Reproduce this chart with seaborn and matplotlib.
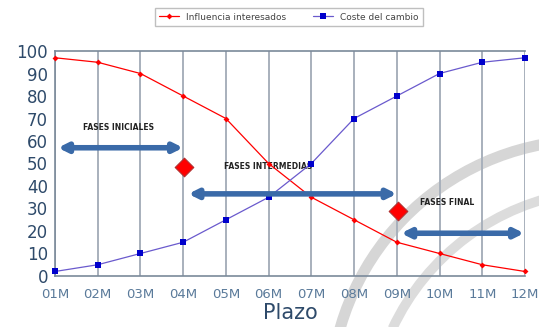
import pandas as pd
import matplotlib.pyplot as plt
import seaborn as sns
from matplotlib.patches import Arc

# datos
plazo = ['01M', '02M', '03M', '04M', '05M', '06M', '07M', '08M', '09M', '10M', '11M', '12M']
influencia = [97, 95, 90, 80, 70, 50, 35, 25, 15, 10, 5, 2]
coste = [2, 5, 10, 15, 25, 35, 50, 70, 80, 90, 95, 97]

df = pd.DataFrame({'pos': range(len(plazo)), 'Influencia interesados': influencia,
                   'Coste del cambio': coste})

sns.set_style('white')
fig = plt.figure(figsize=(5.39, 3.27), dpi=100)

# marca de agua gris de fondo
bg = fig.add_axes([0, 0, 1, 1], zorder=0)
bg.set_xlim(0, 539)
bg.set_ylim(327, 0)
bg.axis('off')
bg.add_patch(Arc((590, 400), 520, 520, theta1=180, theta2=268, color='#d6d6d6', lw=8))
bg.add_patch(Arc((610, 430), 480, 480, theta1=205, theta2=262, color='#dcdcdc', lw=7))

ax = fig.add_axes([0.102, 0.156, 0.872, 0.688], zorder=1)
ax.patch.set_alpha(0)

sns.lineplot(data=df, x='pos', y='Influencia interesados', ax=ax, color='#ff0000', lw=0.9,
             marker='D', markersize=3, markeredgewidth=0, label='Influencia interesados',
             clip_on=False, zorder=4)
sns.lineplot(data=df, x='pos', y='Coste del cambio', ax=ax, color='#6a5acd', lw=0.9,
             marker='s', markersize=4.5, markerfacecolor='#0000cc', markeredgewidth=0,
             label='Coste del cambio', clip_on=False, zorder=4)

ax.set_xlim(0, 11)
ax.set_ylim(0, 100)
ax.set_xticks(range(len(plazo)))
ax.set_xticklabels(plazo)
ax.set_yticks(range(0, 101, 10))
ax.tick_params(axis='x', labelsize=9.5, labelcolor='#5a7a9a', length=0, pad=9)
ax.tick_params(axis='y', labelsize=12, labelcolor='#2e4a6a', length=3, color='#7a8a9a', pad=2)
ax.xaxis.grid(True, color='#a8b0bc', lw=1.4)
ax.yaxis.grid(False)
for s in ['left', 'bottom', 'top']:
    ax.spines[s].set_color('#7a8a9a')
    ax.spines[s].set_linewidth(1.2)
ax.spines['right'].set_visible(False)
ax.set_ylabel('')
ax.set_xlabel('Plazo', fontsize=15, color='#2e4a6a', labelpad=1)

# flechas de fases
arrow = dict(arrowstyle='<|-|>', color='#3a6aa8', lw=4, mutation_scale=13, shrinkA=0, shrinkB=0)
ax.annotate('', xy=(0.07, 57), xytext=(3.0, 57), arrowprops=arrow, zorder=5)
ax.annotate('', xy=(3.12, 36.5), xytext=(8.0, 36.5), arrowprops=arrow, zorder=5)
ax.annotate('', xy=(8.1, 19), xytext=(10.98, 19), arrowprops=arrow, zorder=5)

ax.text(1.48, 65, 'FASES INICIALES', fontsize=5.5, fontweight='bold', color='#222222', ha='center')
ax.text(3.95, 48.5, 'FASES INTERMEDIAS', fontsize=5.5, fontweight='bold', color='#222222', va='center')
ax.text(8.55, 32.5, 'FASES FINAL', fontsize=5.5, fontweight='bold', color='#222222', va='center')

ax.scatter([3.03, 8.03], [48.5, 29], marker='D', s=90, color='#ff0000', edgecolor='#b03030',
           lw=0.8, zorder=6)

ax.legend(loc='center', ncol=2, fontsize=6.5, frameon=True, fancybox=False,
          edgecolor='#b0b0b0', handlelength=2.2, columnspacing=3, borderpad=0.5)
leg = ax.get_legend()
leg.set_bbox_to_anchor((289 / 539, 1 - 17 / 327), transform=fig.transFigure)
for t in leg.get_texts():
    t.set_color('#444444')

fig.savefig('out.png', dpi=100)
